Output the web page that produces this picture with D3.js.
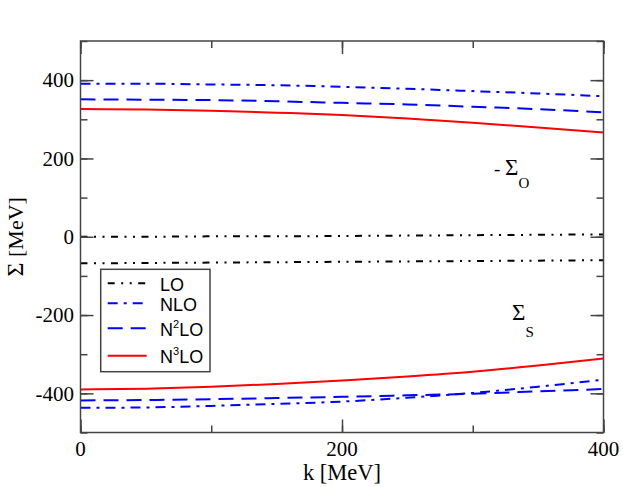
<!DOCTYPE html>
<html>
<head>
<meta charset="utf-8">
<script src="https://cdn.jsdelivr.net/npm/d3@7"></script>
<style>
  body { margin: 0; background: #fff; }
  svg { display: block; }
</style>
</head>
<body>
<div id="chart"></div>
<script>
// momentum grid [MeV]
const kValues = [0, 50, 100, 150, 200, 250, 300, 350, 400];

// -Sigma_O (upper curves) and Sigma_S (lower curves), MeV
const loVector   = [0, 0, 1, 1, 2, 3, 4, 5, 6];
const loScalar   = [-68, -67, -66, -65, -64, -63, -62, -61, -60];
const nloVector  = [391, 391, 389, 387, 383, 378, 372, 366, 359];
const nloScalar  = [-437, -436, -432, -427, -421, -411, -399, -383, -365];
const n2loVector = [351, 350, 349, 346, 342, 338, 332, 326, 318];
const n2loScalar = [-418, -417, -415, -412, -409, -405, -401, -395, -389];
const n3loVector = [326, 325, 322, 317, 311, 302, 291, 279, 266];
const n3loScalar = [-390, -388, -383, -376, -367, -357, -345, -329, -311];

const xTicks = [0, 200, 400];
const yTicks = [-400, -200, 0, 200, 400];

const orders = [
  { name: "LO",   sup: "",  color: "#000", dash: "7,6.5,2,6.5,2,6.5", vec: loVector,   sca: loScalar },
  { name: "NLO",  sup: "",  color: "#00f", dash: "10,6,3,6",          vec: nloVector,  sca: nloScalar },
  { name: "N",    sup: "2", color: "#00f", dash: "15,8",              vec: n2loVector, sca: n2loScalar },
  { name: "N",    sup: "3", color: "#f00", dash: null,                vec: n3loVector, sca: n3loScalar }
];

const W = 623, H = 487;
const margin = { top: 41, right: 19.5, bottom: 54.5, left: 80.5 };
const width = W - margin.left - margin.right;
const height = H - margin.top - margin.bottom;

const svg = d3.select("#chart").append("svg")
    .attr("width", W)
    .attr("height", H);

const g = svg.append("g")
    .attr("transform", `translate(${margin.left},${margin.top})`);

const x = d3.scaleLinear().domain([0, 400]).range([0, width]);
const y = d3.scaleLinear().domain([-500, 500]).range([height, 0]);

const line = d3.line()
    .x((d, i) => x(kValues[i]))
    .y(d => y(d))
    .curve(d3.curveMonotoneX);

// curves
orders.forEach(o => {
  [o.vec, o.sca].forEach(vals => {
    g.append("path")
      .datum(vals)
      .attr("d", line)
      .attr("fill", "none")
      .attr("stroke", o.color)
      .attr("stroke-width", 2)
      .attr("stroke-dasharray", o.dash);
  });
});

// frame + inward ticks on all four sides
const frameColor = "#444";
const major = 13, minor = 7;

function tickAxis(axis, transform) {
  g.append("g")
    .attr("transform", transform)
    .call(axis)
    .call(a => a.select(".domain").remove())
    .call(a => a.selectAll("line").attr("stroke", frameColor).attr("stroke-width", 1.5));
}

const xMinor = d3.range(0, 401, 100);
const yMinor = d3.range(-500, 501, 100);

tickAxis(d3.axisBottom(x).tickValues(xMinor).tickSize(-minor).tickFormat(""), `translate(0,${height})`);
tickAxis(d3.axisBottom(x).tickValues(xTicks).tickSize(-major).tickFormat(""), `translate(0,${height})`);
tickAxis(d3.axisTop(x).tickValues(xMinor).tickSize(-minor).tickFormat(""), "translate(0,0)");
tickAxis(d3.axisTop(x).tickValues(xTicks).tickSize(-major).tickFormat(""), "translate(0,0)");
tickAxis(d3.axisLeft(y).tickValues(yMinor).tickSize(-minor).tickFormat(""), "translate(0,0)");
tickAxis(d3.axisLeft(y).tickValues(yTicks).tickSize(-major).tickFormat(""), "translate(0,0)");
tickAxis(d3.axisRight(y).tickValues(yMinor).tickSize(-minor).tickFormat(""), `translate(${width},0)`);
tickAxis(d3.axisRight(y).tickValues(yTicks).tickSize(-major).tickFormat(""), `translate(${width},0)`);

g.append("rect")
    .attr("width", width)
    .attr("height", height)
    .attr("fill", "none")
    .attr("stroke", frameColor)
    .attr("stroke-width", 1.5);

// tick labels
const serif = "'Liberation Serif', 'Times New Roman', serif";
const sans = "'Liberation Sans', Arial, sans-serif";

g.selectAll(".xlab").data(xTicks).enter().append("text")
    .attr("x", d => x(d))
    .attr("y", height + 23.5)
    .attr("text-anchor", "middle")
    .attr("font-family", serif)
    .attr("font-size", 21)
    .text(d => d);

g.selectAll(".ylab").data(yTicks).enter().append("text")
    .attr("x", -6.5)
    .attr("y", d => y(d) + 7.3)
    .attr("text-anchor", "end")
    .attr("font-family", serif)
    .attr("font-size", 21)
    .text(d => d);

// axis titles
svg.append("text")
    .attr("x", margin.left + width / 2)
    .attr("y", 480)
    .attr("text-anchor", "middle")
    .attr("font-family", serif)
    .attr("font-size", 22.5)
    .text("k [MeV]");

const yTitle = svg.append("text")
    .attr("transform", `translate(23,${margin.top + y(0)}) rotate(-90)`)
    .attr("text-anchor", "middle")
    .attr("font-family", serif)
    .attr("font-size", 22);
yTitle.append("tspan").attr("font-size", 24).text("\u03A3");
yTitle.append("tspan").text(" [MeV]");

// annotations
const vecLabel = svg.append("text")
    .attr("x", 494)
    .attr("y", 175)
    .attr("font-family", serif)
    .attr("font-size", 19);
vecLabel.append("tspan").text("- ");
vecLabel.append("tspan").attr("font-size", 23).text("\u03A3");
vecLabel.append("tspan").attr("dy", 13).attr("font-size", 15).text("O");

const scaLabel = svg.append("text")
    .attr("x", 512)
    .attr("y", 320)
    .attr("font-family", serif)
    .attr("font-size", 23);
scaLabel.append("tspan").text("\u03A3");
scaLabel.append("tspan").attr("dy", 16.5).attr("font-size", 15).text("S");

// legend
const legendRows = [283.3, 303.3, 328.3, 355.7];
const legend = svg.append("g");

legend.append("rect")
    .attr("x", 100.7)
    .attr("y", 269.3)
    .attr("width", 109.3)
    .attr("height", 102.4)
    .attr("fill", "#fff")
    .attr("stroke", frameColor)
    .attr("stroke-width", 1.5);

orders.forEach((o, i) => {
  const ly = legendRows[i];
  legend.append("line")
    .attr("x1", 107.7).attr("x2", 146.7)
    .attr("y1", ly).attr("y2", ly)
    .attr("stroke", o.color)
    .attr("stroke-width", 2)
    .attr("stroke-dasharray", o.dash);
  const t = legend.append("text")
    .attr("x", 160)
    .attr("y", ly + 7.5)
    .attr("font-family", sans)
    .attr("font-size", 18);
  t.append("tspan").text(o.name);
  if (o.sup) {
    t.append("tspan").attr("dy", -8).attr("font-size", 11).text(o.sup);
    t.append("tspan").attr("dy", 8).text("LO");
  }
});
</script>
</body>
</html>
